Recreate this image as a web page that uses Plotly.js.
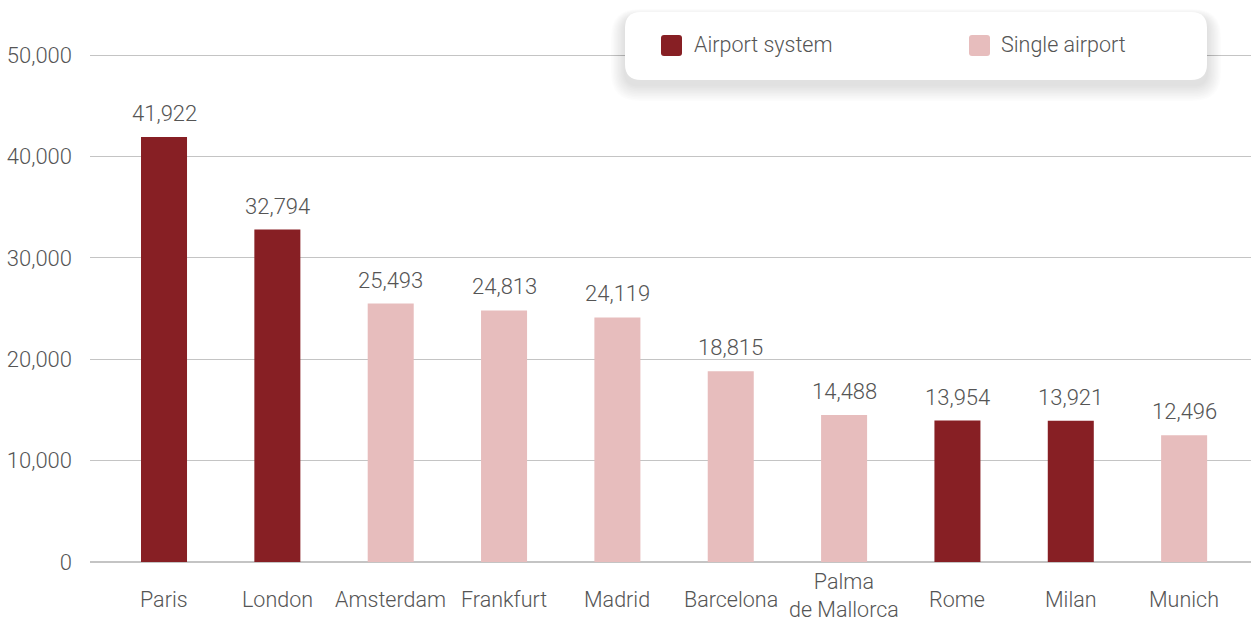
<!DOCTYPE html>
<html>
<head>
<meta charset="utf-8">
<script src="https://cdn.plot.ly/plotly-3.0.1.min.js"></script>
<style>html,body{margin:0;padding:0;background:#fff;}#chart{width:1251px;height:623px;}</style>
</head>
<body>
<div id="chart"></div>
<script>
// ---- data ----
const categories = ["Paris","London","Amsterdam","Frankfurt","Madrid","Barcelona","Palma de Mallorca","Rome","Milan","Munich"];
const categoryLabels = ["Paris","London","Amsterdam","Frankfurt","Madrid","Barcelona","Palma<br>de Mallorca","Rome","Milan","Munich"];
const values = [41922, 32794, 25493, 24813, 24119, 18815, 14488, 13954, 13921, 12496];
const airportType = ["system","system","single","single","single","single","single","system","system","single"];
const seriesKeys = ["system", "single"];
const seriesNames = {system: "Airport system", single: "Single airport"};
const yTickVals = [0, 10000, 20000, 30000, 40000, 50000];
const yTickText = ["0","10,000","20,000","30,000","40,000","50,000"];

// ---- styling ----
const colors = {system: "#871F24", single: "#E7BDBD"};
const fontFamily = "'Roboto Light', Roboto, 'Noto Sans', sans-serif";
const textColor = "#555555";
const baseFont = {family: fontFamily, size: 22, color: textColor, weight: 300};
const catFont = {family: fontFamily, size: 21.5, color: textColor, weight: 300};

const W = 1251, H = 623, L = 90, R = 0, T = 51, B = 61;
const pw = W - L - R, ph = H - T - B;
const px2x = p => (p - L) / pw;
const py2y = p => (H - B - p) / ph;

function rrect(x0, y0, x1, y1, r) {
  const P = (x, y) => px2x(x) + "," + py2y(y);
  return "M" + P(x0 + r, y0) + " L" + P(x1 - r, y0) + " Q" + P(x1, y0) + " " + P(x1, y0 + r) +
    " L" + P(x1, y1 - r) + " Q" + P(x1, y1) + " " + P(x1 - r, y1) +
    " L" + P(x0 + r, y1) + " Q" + P(x0, y1) + " " + P(x0, y1 - r) +
    " L" + P(x0, y0 + r) + " Q" + P(x0, y0) + " " + P(x0 + r, y0) + " Z";
}

const traces = seriesKeys.map(t => {
  const xs = [], ys = [];
  categories.forEach((c, i) => { if (airportType[i] === t) { xs.push(c); ys.push(values[i]); } });
  return {
    type: "bar", name: seriesNames[t], x: xs, y: ys,
    marker: {color: colors[t]}, width: 0.406, hoverinfo: "x+y", showlegend: false
  };
});

// value labels
const annotations = categories.map((c, i) => ({
  x: c, y: values[i], xref: "x", yref: "y",
  text: values[i].toLocaleString("en-US"),
  showarrow: false, yanchor: "bottom", yshift: 9,
  font: baseFont
}));
// category labels (vertically centred like the reference, kept inside the page)
categories.forEach((c, i) => {
  const multi = categoryLabels[i].indexOf("<br>") >= 0;
  annotations.push({
    x: c, y: py2y(multi ? 595 : 599), xref: "x", yref: "paper",
    text: categoryLabels[i], showarrow: false, yanchor: "middle", xanchor: "center",
    font: catFont
  });
});

const shapes = [];
// legend card with soft shadow
const bx0 = 625, by0 = 12, bx1 = 1207, by1 = 80;
for (let k = 10; k >= 1; k--) {
  shapes.push({type: "path", xref: "paper", yref: "paper", layer: "above",
    path: rrect(bx0 - k * 1.4, by0 - k * 0.8 + 5, bx1 + k * 1.4, by1 + k * 1.6 + 5, 14 + k * 1.4),
    fillcolor: "rgba(0,0,0,0.011)", line: {width: 0}});
}
shapes.push({type: "path", xref: "paper", yref: "paper", layer: "above",
  path: rrect(bx0, by0, bx1, by1, 16), fillcolor: "#ffffff", line: {width: 0}});

// legend entries
const legendItems = [{key: "system", sx: 661, tx: 692}, {key: "single", sx: 969, tx: 999}];
legendItems.forEach(it => {
  shapes.push({type: "path", xref: "paper", yref: "paper", layer: "above",
    path: rrect(it.sx, 35, it.sx + 21, 56, 3), fillcolor: colors[it.key], line: {width: 0}});
  annotations.push({x: px2x(it.tx), y: py2y(45), xref: "paper", yref: "paper",
    xanchor: "left", yanchor: "middle", showarrow: false, text: seriesNames[it.key],
    font: {family: fontFamily, size: 21.5, color: textColor, weight: 300}});
});

const layout = {
  width: W, height: H,
  margin: {l: L, r: R, t: T, b: B, pad: 0},
  paper_bgcolor: "#ffffff", plot_bgcolor: "#ffffff",
  barmode: "overlay",
  font: baseFont,
  xaxis: {
    type: "category", categoryorder: "array", categoryarray: categories,
    range: [-0.653, 9.59], showgrid: false, zeroline: false, showline: false,
    ticks: "", showticklabels: false, fixedrange: true
  },
  yaxis: {
    range: [0, 50400], tickvals: yTickVals, ticktext: yTickText,
    showgrid: true, gridcolor: "#c4c4c4", gridwidth: 1,
    zeroline: true, zerolinecolor: "#c4c4c4", zerolinewidth: 1.5, showline: false,
    ticks: "", ticklabelstandoff: 17,
    tickfont: baseFont, fixedrange: true
  },
  showlegend: false,
  annotations: annotations,
  shapes: shapes
};

Plotly.newPlot("chart", traces, layout, {displayModeBar: false});
</script>
</body>
</html>
